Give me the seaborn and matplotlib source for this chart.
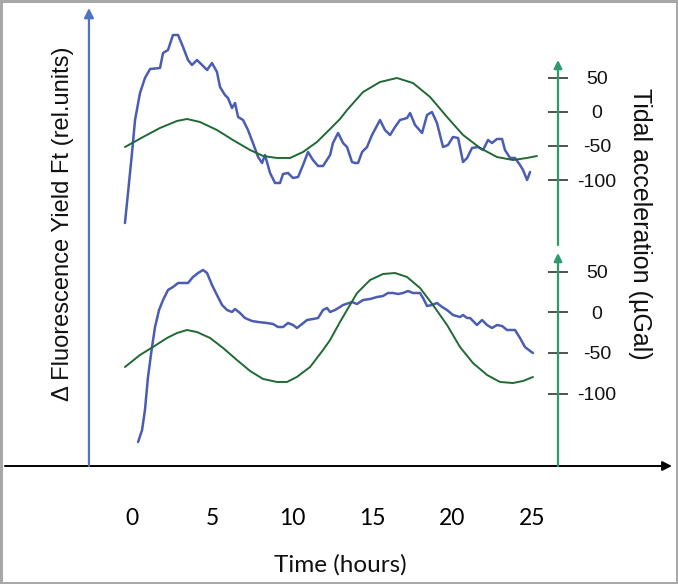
import matplotlib
matplotlib.use("Agg")
import matplotlib.pyplot as plt
import seaborn as sns

# ---- data (time in hours) ----
# upper panel: fluorescence (rel. units, shared blue axis) and tidal acceleration (uGal)
top_blue_t = [-0.44, -0.25, 0.0, 0.19, 0.5, 0.81, 1.13, 1.75, 1.94, 2.25, 2.56, 2.88, 3.19, 3.5, 3.75,
              4.06, 4.38, 4.69, 5.0, 5.31, 5.5, 5.81, 6.0, 6.25, 6.44, 6.63, 6.94, 7.25, 7.56, 7.88,
              8.13, 8.31, 8.63, 8.94, 9.25, 9.44, 9.75, 10.06, 10.38, 10.69, 11.0, 11.31, 11.63, 11.94,
              12.38, 12.56, 12.88, 13.19, 13.44, 13.75, 13.94, 14.13, 14.38, 14.69, 15.0, 15.5, 15.81,
              16.13, 16.44, 16.75, 17.19, 17.38, 17.69, 18.13, 18.44, 18.75, 19.06, 19.44, 19.75, 20.06,
              20.38, 20.69, 20.94, 21.25, 21.63, 21.94, 22.25, 22.5, 22.81, 23.13, 23.31, 23.63, 23.94,
              24.25, 24.44, 24.69, 24.88]
top_blue_f = [12.15, 13.65, 15.65, 17.3, 18.65, 19.4, 19.85, 19.9, 20.65, 20.8, 21.55, 21.55, 20.95, 20.3,
              20.05, 20.3, 20.05, 19.8, 20.15, 19.7, 18.95, 18.55, 18.4, 17.9, 18.15, 17.45, 17.3, 16.8,
              16.15, 15.45, 15.15, 15.55, 14.65, 14.15, 14.15, 14.6, 14.65, 14.4, 14.45, 15.05, 15.7,
              15.3, 15.0, 15.0, 15.55, 16.15, 16.65, 16.15, 15.95, 15.2, 15.15, 15.15, 15.7, 15.95,
              16.55, 17.3, 16.8, 16.55, 16.95, 17.3, 17.4, 17.65, 17.05, 16.65, 17.55, 17.7, 17.15,
              15.95, 16.05, 16.45, 16.4, 15.2, 15.4, 15.9, 15.95, 15.8, 16.3, 16.15, 16.35, 16.35,
              15.8, 15.4, 15.4, 15.05, 14.8, 14.3, 14.7]
top_tide_t = [-0.44, 0.69, 1.75, 2.81, 3.44, 4.25, 5.31, 6.31, 7.38, 8.19, 9.06, 9.88, 10.69, 11.56,
              12.38, 13.0, 13.44, 14.44, 15.5, 16.56, 17.56, 18.63, 19.69, 20.69, 21.75, 22.81, 23.81,
              24.69, 25.31]
top_tide_g = [-51.5, -36.8, -23.5, -13.2, -10.3, -14.7, -26.5, -41.2, -55.9, -64.7, -67.6, -67.6, -58.8,
              -44.1, -25.0, -10.3, 2.9, 29.4, 44.1, 50.0, 42.6, 22.1, -7.4, -33.8, -52.9, -66.2, -70.6,
              -67.6, -64.7]

# lower panel
bot_blue_t = [0.38, 0.63, 0.81, 1.0, 1.25, 1.44, 1.69, 1.94, 2.25, 2.56, 2.88, 3.19, 3.5, 3.81, 4.13,
              4.44, 4.69, 5.0, 5.31, 5.63, 5.94, 6.25, 6.44, 6.75, 7.06, 7.5, 7.88, 8.44, 8.81, 9.13,
              9.44, 9.75, 10.06, 10.31, 10.63, 10.94, 11.31, 11.63, 11.94, 12.19, 12.38, 12.69, 13.0,
              13.19, 13.75, 14.06, 14.44, 14.88, 15.31, 15.69, 16.0, 16.31, 16.63, 16.94, 17.25, 17.56,
              18.0, 18.19, 18.44, 18.75, 19.06, 19.38, 19.69, 20.06, 20.5, 20.69, 20.94, 21.13, 21.56,
              21.88, 22.19, 22.5, 22.81, 23.13, 23.44, 23.94, 24.25, 24.56, 24.88, 25.06]
bot_blue_f = [1.2, 1.8, 2.8, 4.45, 5.95, 6.95, 7.8, 8.3, 8.8, 8.95, 9.15, 9.15, 9.15, 9.45, 9.65, 9.8,
              9.65, 9.05, 8.55, 8.05, 7.8, 7.7, 7.85, 7.65, 7.4, 7.25, 7.2, 7.15, 7.1, 6.95, 6.95, 7.15,
              7.05, 6.9, 7.1, 7.3, 7.35, 7.4, 7.8, 7.9, 7.7, 7.8, 7.95, 8.05, 8.2, 8.1, 8.3, 8.35, 8.45,
              8.5, 8.65, 8.65, 8.6, 8.65, 8.75, 8.65, 8.65, 8.4, 8.0, 8.05, 8.15, 7.95, 7.8, 7.55, 7.45,
              7.55, 7.4, 7.4, 7.05, 7.3, 7.05, 6.9, 7.05, 7.0, 6.8, 6.8, 6.4, 5.95, 5.75, 5.65]
bot_tide_t = [-0.44, 0.5, 1.31, 2.19, 2.81, 3.44, 4.06, 4.88, 5.69, 6.56, 7.38, 8.19, 9.06, 9.69, 10.31,
              11.13, 11.94, 12.38, 13.0, 14.06, 14.88, 15.69, 16.44, 17.19, 18.0, 18.81, 19.69, 20.5,
              21.31, 22.19, 23.0, 23.81, 24.44, 25.06]
bot_tide_g = [-67.4, -52.6, -42.8, -31.7, -25.6, -21.9, -24.4, -31.7, -44.0, -58.8, -72.3, -82.1, -85.8,
              -85.8, -79.6, -67.4, -46.5, -34.2, -12.0, 23.4, 39.6, 47.0, 48.2, 43.3, 29.8, 8.9, -15.7,
              -42.8, -62.5, -77.2, -85.8, -87.1, -84.6, -79.7]

time_ticks = [0, 5, 10, 15, 20, 25]
tide_ticks = [50, 0, -50, -100]

BLUE = "#4a5db3"
BLUE_AXIS = "#4f72c2"
GREEN = "#1f6a33"
GREEN_AXIS = "#2e9a6c"

sns.set_style("white")
plt.rcParams["font.family"] = ["Liberation Sans", "DejaVu Sans"]

fig = plt.figure(figsize=(6.78, 5.84), dpi=100)
fig.patch.set_edgecolor("#a8a8a8")
fig.patch.set_linewidth(3.5)

ax = fig.add_axes([0, 0, 1, 1])
ax.patch.set_visible(False)
ax_gt = ax.twinx()
ax_gb = ax.twinx()

sns.lineplot(x=top_blue_t, y=top_blue_f, ax=ax, color=BLUE, lw=1.8)
sns.lineplot(x=bot_blue_t, y=bot_blue_f, ax=ax, color=BLUE, lw=1.8)
sns.lineplot(x=top_tide_t, y=top_tide_g, ax=ax_gt, color=GREEN, lw=1.4)
sns.lineplot(x=bot_tide_t, y=bot_tide_g, ax=ax_gb, color=GREEN, lw=1.4)

ax.set_xlim(-8.25, 34.125)
ax.set_ylim(-5.9, 23.3)
ax_gt.set_ylim(-694.1, 164.7)
ax_gb.set_ylim(-334.3, 384.0)

for a in (ax, ax_gt, ax_gb):
    for s in a.spines.values():
        s.set_visible(False)
    a.grid(False)

# time axis
ax.spines["bottom"].set_position(("data", 0))
ax.set_xticks(time_ticks)
ax.set_xticklabels([str(t) for t in time_ticks], family=["Lato", "DejaVu Sans"])
ax.set_yticks([])
ax.tick_params(axis="x", direction="inout", length=18, width=1.1, color="black",
               pad=21, labelsize=16.5, labelcolor="black")
ax.annotate("", xy=(33.75, 0), xytext=(-7.94, 0),
            arrowprops=dict(arrowstyle="-|>", color="black", lw=1.4, mutation_scale=14,
                            shrinkA=0, shrinkB=0))
# blue fluorescence axis
ax.annotate("", xy=(-2.69, 22.9), xytext=(-2.69, 0),
            arrowprops=dict(arrowstyle="-|>", color=BLUE_AXIS, lw=1.6, mutation_scale=14,
                            shrinkA=0, shrinkB=0))

# green tidal axes
for a, lo, hi in ((ax_gt, -195.6, 76.5), (ax_gb, -189.2, 72.8)):
    a.spines["right"].set_position(("data", 26.625))
    a.set_yticks(tide_ticks)
    a.set_yticklabels([str(v) for v in tide_ticks])
    a.tick_params(axis="y", direction="inout", length=14, width=1.1, color="#222222",
                  pad=21, labelsize=14, labelcolor="#111111")
    for lab in a.get_yticklabels():
        lab.set_horizontalalignment("center")
    a.annotate("", xy=(26.625, hi), xytext=(26.625, lo),
               arrowprops=dict(arrowstyle="-|>", color=GREEN_AXIS, lw=1.6, mutation_scale=12,
                               shrinkA=0, shrinkB=0))

fig.text(63 / 678, 1 - 223.5 / 584, "\u0394 Fluorescence Yield Ft (rel.units)", rotation=90,
         ha="center", va="center", fontsize=17, color="#111111")
fig.text(640 / 678, 1 - 223.5 / 584, "Tidal acceleration (\u00b5Gal)", rotation=-90,
         ha="center", va="center", fontsize=18, color="#111111")
fig.text(340 / 678, 1 - 565 / 584, "Time (hours)", ha="center", va="center", fontsize=17.5,
         family=["Lato", "DejaVu Sans"], color="#111111")

fig.savefig("out.png", dpi=100, facecolor="white", edgecolor=fig.get_edgecolor())
